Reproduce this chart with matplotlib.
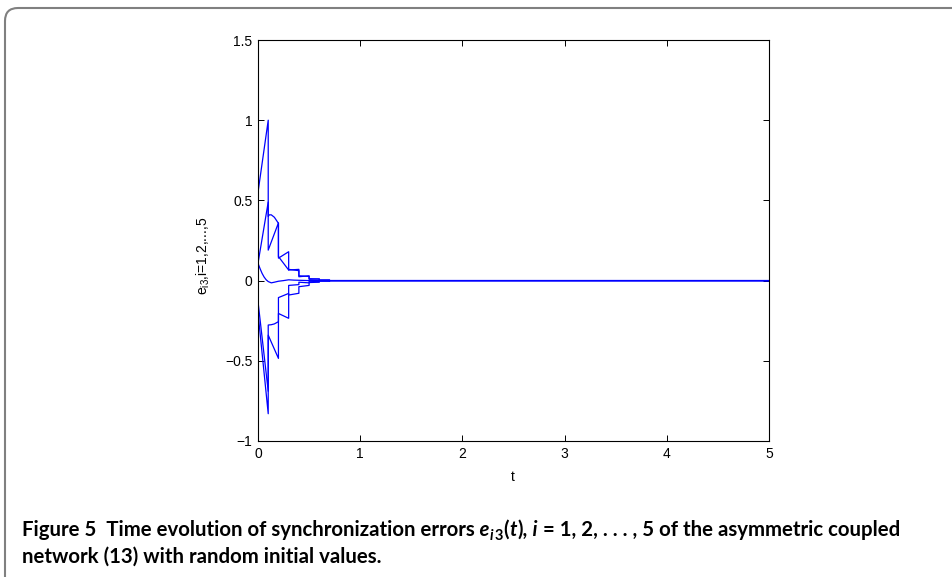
import matplotlib
matplotlib.use('Agg')
import matplotlib.pyplot as plt
from matplotlib.patches import FancyBboxPatch

# ---------------- data ----------------
t_u1 = [0, 0.1, 0.1, 0.2, 0.2, 0.3, 0.3, 0.4, 0.4, 0.5, 0.5, 0.6, 0.6, 0.7, 0.7, 5]
e_u1 = [0.55, 1.0, 0.19, 0.36, 0.14, 0.18, 0.066, 0.07, 0.024, 0.03, 0.008, 0.01, 0.003, 0.004, 0.0, 0.0]

t_u2 = [0, 0.1, 0.1, 0.11, 0.13, 0.16, 0.2, 0.2, 0.3, 0.3, 0.4, 0.4, 0.5, 0.5, 0.6, 0.6, 0.7, 0.7, 5]
e_u2 = [0.108, 0.49, 0.40, 0.41, 0.41, 0.395, 0.357, 0.15, 0.066, 0.07, 0.062, 0.03, 0.026, 0.012, 0.01, 0.004, 0.003, 0.0, 0.0]

t_m = [0, 0.02, 0.04, 0.06, 0.08, 0.1, 0.13, 0.16, 0.2, 0.25, 0.3, 0.35, 0.4, 0.5, 0.6, 0.7, 5]
e_m = [0.108, 0.075, 0.045, 0.022, 0.005, -0.006, -0.014, -0.010, -0.004, 0.0, 0.005, 0.003, 0.002, 0.0, 0.0, 0.0, 0.0]

t_l1 = [0, 0.1, 0.1, 0.2, 0.2, 0.3, 0.3, 0.4, 0.4, 0.5, 0.5, 0.6, 0.6, 0.7, 0.7, 5]
e_l1 = [-0.20, -0.83, -0.34, -0.485, -0.205, -0.235, -0.03, -0.025, -0.01, -0.014, -0.004, -0.006, -0.001, -0.002, 0.0, 0.0]

t_l2 = [0, 0.1, 0.1, 0.13, 0.16, 0.2, 0.2, 0.3, 0.3, 0.4, 0.4, 0.5, 0.5, 0.6, 0.6, 0.7, 0.7, 5]
e_l2 = [-0.13, -0.69, -0.277, -0.275, -0.27, -0.256, -0.106, -0.08, -0.09, -0.079, -0.038, -0.03, -0.012, -0.01, -0.004, -0.004, 0.0, 0.0]

xticks = [0, 1, 2, 3, 4, 5]
xtick_labels = ['0', '1', '2', '3', '4', '5']
yticks = [-1, -0.5, 0, 0.5, 1, 1.5]
ytick_labels = ['\u22121', '\u22120.5', '0', '0.5', '1', '1.5']

# ---------------- figure ----------------
W, H = 953, 577
plt.rcParams['font.family'] = ['Liberation Sans', 'DejaVu Sans']
plt.rcParams['mathtext.fontset'] = 'custom'
plt.rcParams['mathtext.rm'] = 'Liberation Sans'
plt.rcParams['mathtext.it'] = 'Liberation Sans:italic'

fig = plt.figure(figsize=(W / 100, H / 100), dpi=100)
fig.patch.set_facecolor('white')

# rounded grey frame (top-left corner visible)
frame = FancyBboxPatch((5 / 100, -0.3), 12.0, (577 - 8) / 100 + 0.3,
                       boxstyle='round,pad=0,rounding_size=0.13',
                       transform=fig.dpi_scale_trans, fill=False,
                       edgecolor='#808080', linewidth=1.5, clip_on=False)
fig.add_artist(frame)

ax = fig.add_axes([258 / W, 136 / H, 511 / W, 401 / H])
for t, e in [(t_u1, e_u1), (t_u2, e_u2), (t_m, e_m), (t_l1, e_l1), (t_l2, e_l2)]:
    ax.plot(t, e, color='#0000ff', linewidth=0.9)

ax.set_xlim(0, 5)
ax.set_ylim(-1, 1.5)
ax.set_xticks(xticks)
ax.set_xticklabels(xtick_labels)
ax.set_yticks(yticks)
ax.set_yticklabels(ytick_labels)
ax.tick_params(direction='in', top=True, right=True, length=4.5, width=0.7,
               labelsize=10, pad=4)
for s in ax.spines.values():
    s.set_linewidth(0.8)

fig.text(203 / W, 1 - 256 / H, r'e$_{\mathrm{i3}}$,i=1,2,...,5', rotation=90,
         ha='center', va='center', fontsize=10)
fig.text(513 / W, 1 - 477 / H, 't', ha='center', va='center', fontsize=10)

# ---------------- caption (bold, mixed italic) ----------------
capfont = ['Lato', 'DejaVu Sans']
renderer = fig.canvas.get_renderer()

line1 = [('Figure 5  Time evolution of synchronization errors', 'normal', 0),
         (' e', 'italic', 0), ('i', 'italic', 1), ('3', 'normal', 1),
         ('(', 'normal', 0), ('t', 'italic', 0), ('),', 'normal', 0),
         (' i', 'italic', 0), (' = 1, 2, . . . , 5 of the asymmetric coupled', 'normal', 0)]
line2 = [('network (13) with random initial values.', 'normal', 0)]


def draw_runs(runs, x0, ybase, size, draw=True):
    x = x0
    made = []
    for s, style, sub in runs:
        fs = size * 0.72 if sub else size
        dy = size * 1.389 * 0.22 if sub else 0
        txt = fig.text(x / W, 1 - (ybase + dy) / H, s, fontsize=fs,
                       fontweight='bold', fontstyle=style, family=capfont,
                       ha='left', va='baseline')
        bb = txt.get_window_extent(renderer)
        x = bb.x1 + (1.0 if s.endswith(',') or s.endswith(')') else 0.5)
        made.append(txt)
    if not draw:
        for m in made:
            m.remove()
    return x - x0


size = 12.0
w = draw_runs(line1, 22, 536, size, draw=False)
size = size * 873.0 / w
draw_runs(line1, 22, 536, size)
draw_runs(line2, 22, 563, size)

fig.savefig('out.png', dpi=100)
